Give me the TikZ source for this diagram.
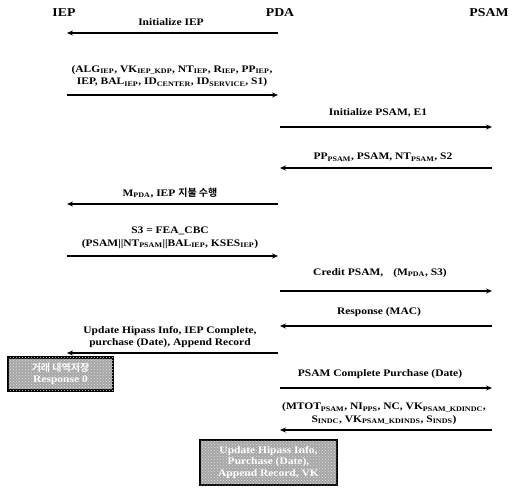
\documentclass[tikz,border=0pt]{standalone}
\usepackage{fontspec}
\setmainfont{Liberation Serif}[FakeStretch=1.15]
\newfontfamily\korfont{Noto Sans CJK KR}[BoldFont={Noto Sans CJK KR Bold}]
\usetikzlibrary{arrows.meta,patterns}
\newcommand{\low}[1]{\textsubscript{#1}}
\tikzset{
actor/.style={
font=\fontsize{12}{14}\selectfont\bfseries
},
msg/.style={
-{Stealth[length=6pt,width=5pt]},
line width=1.3pt
},
msglabel/.style={
align=center,
inner sep=0pt,
font=\fontsize{10}{12.5}\selectfont\bfseries
},
storebox/.style={
draw,
line width=2.6pt,
fill=gray!70,
postaction={pattern=crosshatch dots,pattern color=gray!25},
text=white,
align=center,
inner sep=1pt,
font=\fontsize{10}{11.5}\selectfont\bfseries
}
}

\begin{document}
\begin{tikzpicture}[x=1pt,y=-1pt]
\useasboundingbox (0,0) rectangle (512,488);
\node[actor](iep) at (64,13){IEP};
\node[actor](pda) at (280,13){PDA};
\node[actor](psam) at (489,13){PSAM};

% IEP - PDA
\coordinate (a1) at (278,33);
\coordinate (b1) at (67,33);
\node[msglabel](t1) at (171,22){Initialize IEP};
\draw[msg](a1)--(b1);

\coordinate (a2) at (67,95);
\coordinate (b2) at (278,95);
\node[msglabel](t2) at (172,76){(ALG\low{IEP}, VK\low{IEP\_KDP}, NT\low{IEP}, R\low{IEP}, PP\low{IEP},\\
IEP, BAL\low{IEP}, ID\low{CENTER}, ID\low{SERVICE}, S1)};
\draw[msg](a2)--(b2);

% PDA - PSAM
\coordinate (a3) at (280,127);
\coordinate (b3) at (492,127);
\node[msglabel](t3) at (378,113){Initialize PSAM, E1};
\draw[msg](a3)--(b3);

\coordinate (a4) at (492,168);
\coordinate (b4) at (280,168);
\node[msglabel](t4) at (383,157){PP\low{PSAM}, PSAM, NT\low{PSAM}, S2};
\draw[msg](a4)--(b4);

% IEP - PDA
\coordinate (a5) at (278,204);
\coordinate (b5) at (67,204);
\node[msglabel](t5) at (170,193){M\low{PDA}, IEP {\korfont\bfseries 지불 수행}};
\draw[msg](a5)--(b5);

\coordinate (a6) at (67,256);
\coordinate (b6) at (278,256);
\node[msglabel](t6) at (170,238){S3 = FEA\_CBC\\
(PSAM||NT\low{PSAM}||BAL\low{IEP}, KSES\low{IEP})};
\draw[msg](a6)--(b6);

% PDA - PSAM
\coordinate (a7) at (280,291);
\coordinate (b7) at (492,291);
\node[msglabel](t7) at (380,273){Credit PSAM,\quad(M\low{PDA}, S3)};
\draw[msg](a7)--(b7);

\coordinate (a8) at (492,326);
\coordinate (b8) at (280,326);
\node[msglabel](t8) at (379,312){Response (MAC)};
\draw[msg](a8)--(b8);

% IEP - PDA
\coordinate (a9) at (278,353);
\coordinate (b9) at (67,353);
\node[msglabel](t9) at (170,337){Update Hipass Info, IEP Complete,\\
purchase (Date), Append Record};
\draw[msg](a9)--(b9);
\node[storebox,minimum width=105pt,minimum height=33pt](s1) at (60.5,374){{\korfont\bfseries 거래 내역저장}\\Response 0};

% PDA - PSAM
\coordinate (a10) at (280,388);
\coordinate (b10) at (492,388);
\node[msglabel](t10) at (380,374){PSAM Complete Purchase (Date)};
\draw[msg](a10)--(b10);

\coordinate (a11) at (492,430);
\coordinate (b11) at (280,430);
\node[msglabel](t11) at (384,414){(MTOT\low{PSAM}, NI\low{PPS}, NC, VK\low{PSAM\_KDINDC},\\
S\low{INDC}, VK\low{PSAM\_KDINDS}, S\low{INDS})};
\draw[msg](a11)--(b11);
\node[storebox,minimum width=137pt,minimum height=45pt](s2) at (268.5,462.5){Update Hipass Info,\\Purchase (Date),\\Append Record, VK};
\end{tikzpicture}
\end{document}
